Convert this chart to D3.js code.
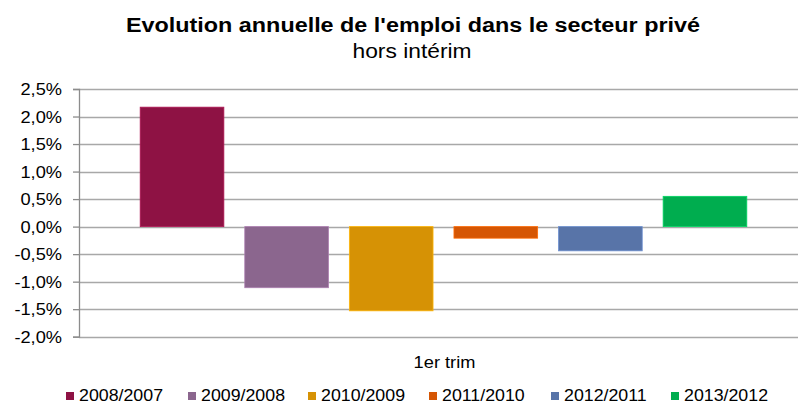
<!DOCTYPE html>
<html>
<head>
<meta charset="utf-8">
<script src="https://cdn.jsdelivr.net/npm/d3@7"></script>
<style>
  body { margin: 0; background: #fff; }
  text { font-family: "Liberation Sans", Arial, sans-serif; fill: #000; }
</style>
</head>
<body>
<div id="chart"></div>
<script>
// data
var categories = ["1er trim"]
var series = ["2008/2007", "2009/2008", "2010/2009", "2011/2010", "2012/2011", "2013/2012"]
var values = [2.17, -1.11, -1.53, -0.21, -0.44, 0.55]
var colors = ["#8e1244", "#8b668e", "#d69205", "#d55604", "#5874a8", "#00ad4f"]
var yTicks = [-2, -1.5, -1, -0.5, 0, 0.5, 1, 1.5, 2, 2.5]

// the source picture is stretched a bit horizontally
var stretch = 1.14

var width = 798, height = 405
var svg = d3.select("#chart").append("svg")
  .attr("width", width)
  .attr("height", height)

var mLeft = 79, mRight = 808, mTop = 89, mBottom = 336.7

var y = d3.scaleLinear()
  .domain([-2, 2.5])
  .range([mBottom, mTop])

var x0 = d3.scaleBand()
  .domain(categories)
  .range([mLeft, mRight])

var x1 = d3.scaleBand()
  .domain(series)
  .range([0, x0.bandwidth()])
  .paddingInner(0.2)
  .paddingOuter(0.585)

var fr = d3.formatLocale({decimal: ",", thousands: " ", grouping: [3], currency: ["", "€"], minus: "-"})
var fmt = fr.format(".1f")

// text helper: put text at x,y and stretch horizontally
function sText(x, yy, str, size, anchor, weight) {
  return svg.append("text")
    .attr("transform", "translate(" + x + "," + yy + ") scale(" + stretch + ",1)")
    .attr("text-anchor", anchor || "start")
    .style("font-size", size + "px")
    .style("font-weight", weight || "normal")
    .text(str)
}

// grid lines
svg.append("g").selectAll("line")
  .data(yTicks)
  .join("line")
  .attr("x1", mLeft)
  .attr("x2", mRight)
  .attr("y1", d => Math.round(y(d)) + 0.5)
  .attr("y2", d => Math.round(y(d)) + 0.5)
  .style("stroke", "#a8a8a8")
  .style("stroke-width", 1.3)

// y axis
var yAxis = d3.axisLeft(y).tickValues(yTicks).tickSize(6).tickPadding(0)
  .tickFormat(d => fmt(d) + "%")

var gy = svg.append("g")
  .attr("transform", "translate(" + mLeft + ",0)")
  .call(yAxis)

gy.select(".domain").style("stroke", "#8c8c8c").style("stroke-width", 1.3)
gy.selectAll(".tick line").style("stroke", "#8c8c8c").style("stroke-width", 1.3)
gy.selectAll(".tick text")
  .attr("x", -17 / stretch)
  .attr("dy", "0.36em")
  .attr("transform", "scale(" + stretch + ",1)")
  .style("font-size", "16px")
  .style("font-family", "Liberation Sans, Arial, sans-serif")
  .style("fill", "#000")

// bars
svg.append("g").selectAll("rect")
  .data(values)
  .join("rect")
  .attr("x", (d, i) => x0(categories[0]) + x1(series[i]))
  .attr("width", x1.bandwidth())
  .attr("y", d => y(Math.max(0, d)))
  .attr("height", d => Math.abs(y(d) - y(0)))
  .style("fill", (d, i) => colors[i])
  .style("stroke", (d, i) => d3.color(colors[i]).brighter(0.6))
  .style("stroke-width", 0.8)

// category label
sText(x0(categories[0]) + x0.bandwidth() / 2 + 1, 368, categories[0], 16, "middle")

// titles
sText(413, 32, "Evolution annuelle de l'emploi dans le secteur privé", 20.5, "middle", "bold")
sText(412, 58, "hors intérim", 20, "middle")

// legend
var legendX = [66, 188, 308, 429, 551, 671]
series.forEach(function(s, i) {
  svg.append("rect")
    .attr("x", legendX[i])
    .attr("y", 392)
    .attr("width", 8)
    .attr("height", 8)
    .style("fill", colors[i])
  sText(legendX[i] + 13, 401, s, 15.6, "start")
})
</script>
</body>
</html>
